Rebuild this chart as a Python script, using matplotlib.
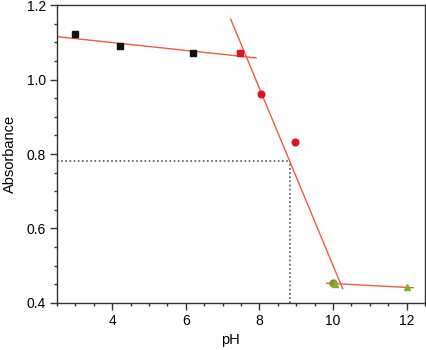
import matplotlib
matplotlib.use("Agg")
import matplotlib.pyplot as plt
from matplotlib.ticker import MultipleLocator

plt.rcParams['font.family'] = ['Liberation Sans', 'DejaVu Sans']

# Data
black_x = [3.0, 4.2, 6.2]
black_y = [1.121, 1.089, 1.070]
red_sq_x = [7.46]
red_sq_y = [1.072]
red_circ_x = [8.03, 8.96]
red_circ_y = [0.962, 0.831]
olive_x = [10.0]
olive_y = [0.453]
green_x = [10.05, 12.0]
green_y = [0.452, 0.444]

fit1_x = [2.5, 7.91]
fit1_y = [1.115, 1.058]
fit2_x = [7.22, 10.26]
fit2_y = [1.162, 0.439]
fit3_x = [9.83, 12.18]
fit3_y = [0.453, 0.441]

pka_x = 8.82
pka_y = 0.781

fig = plt.figure(figsize=(4.27, 3.5), dpi=100)
ax = fig.add_axes([0.1335, 0.1343, 0.8618, 0.8514])

line_c = '#f05a46'
ax.plot(fit1_x, fit1_y, color=line_c, lw=1.0, zorder=2)
ax.plot(fit2_x, fit2_y, color=line_c, lw=1.0, zorder=2)
ax.plot(fit3_x, fit3_y, color=line_c, lw=1.0, zorder=2)

ax.plot([2.5, pka_x], [pka_y, pka_y], color='#555555', lw=1.2, ls=(0, (1, 1.5)), zorder=1)
ax.plot([pka_x, pka_x], [0.4, pka_y], color='#555555', lw=1.2, ls=(0, (1, 1.5)), zorder=1)

ax.plot(black_x, black_y, 's', color='#111111', ms=4.5, zorder=3)
ax.plot(red_sq_x, red_sq_y, 's', color='#e3101e', ms=4.5, zorder=3)
ax.plot(red_circ_x, red_circ_y, 'o', color='#e3101e', ms=4.8, zorder=3)
ax.plot(olive_x, olive_y, 'o', color='#8c8f2a', ms=5, zorder=3)
ax.plot(green_x, green_y, '^', color='#7ab42a', ms=4.5, zorder=4)

ax.set_xlim(2.5, 12.5)
ax.set_ylim(0.4, 1.2)
ax.xaxis.set_minor_locator(MultipleLocator(0.5))
ax.yaxis.set_minor_locator(MultipleLocator(0.05))
ax.set_xticks([4, 6, 8, 10, 12])
ax.set_yticks([0.4, 0.6, 0.8, 1.0, 1.2])
ax.set_xticklabels(['4', '6', '8', '10', '12'])
ax.set_yticklabels(['0.4', '0.6', '0.8', '1.0', '1.2'])

ax.tick_params(which='major', direction='out', length=5, width=1.0, labelsize=10, color='#333333', pad=3)
ax.tick_params(which='minor', direction='out', length=2.5, width=1.0, color='#333333')
for s in ax.spines.values():
    s.set_color('#333333')
    s.set_linewidth(1.0)

ax.set_xlabel('pH', fontsize=10.5)
ax.set_ylabel('Absorbance', fontsize=10.5)
ax.xaxis.set_label_coords(0.47, -0.10)
ax.yaxis.set_label_coords(-0.11, 0.5)

fig.savefig('out.png', dpi=100)
